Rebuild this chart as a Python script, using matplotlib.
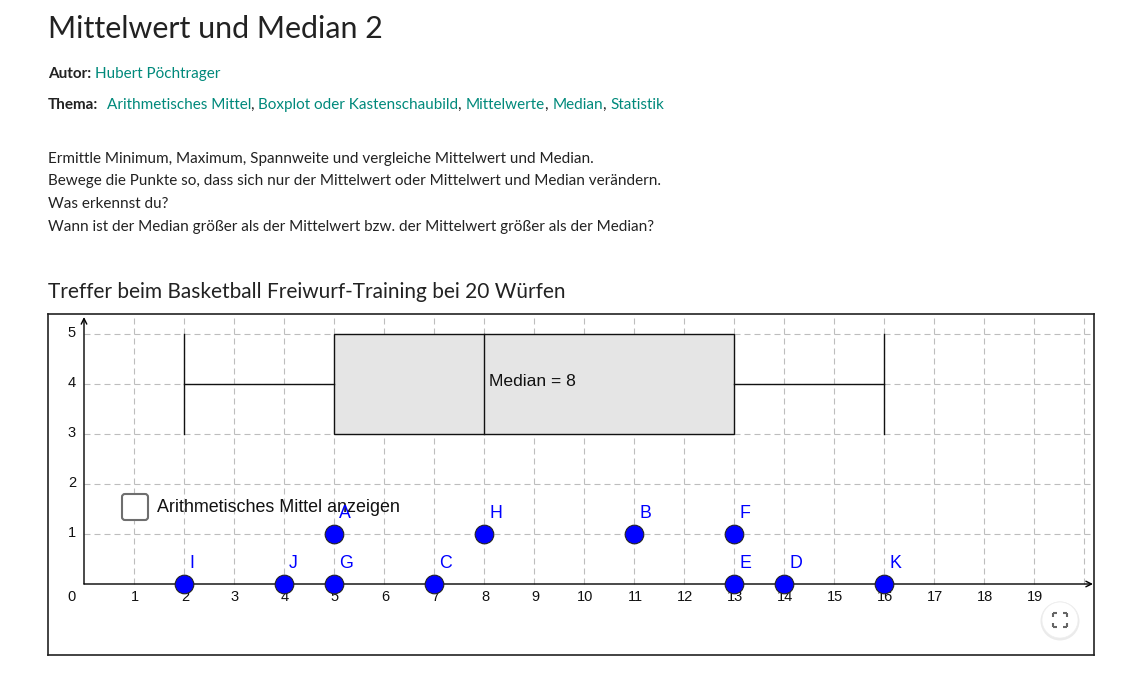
import matplotlib
matplotlib.use("Agg")
import matplotlib.pyplot as plt
from matplotlib.patches import Rectangle, FancyBboxPatch, Circle
from matplotlib.text import Annotation

W, H = 1141, 683
DPI = 100

# ---------------- data ----------------
point_names = ['A', 'B', 'C', 'D', 'E', 'F', 'G', 'H', 'I', 'J', 'K']
point_x = [5, 11, 7, 14, 13, 13, 5, 8, 2, 4, 16]
point_y = [1, 1, 0, 0, 0, 1, 0, 1, 0, 0, 0]

box_min, box_q1, box_median, box_q3, box_max = 2, 5, 8, 13, 16
box_center_y, box_half_height = 4, 1

x_tick_values = list(range(1, 20))
y_tick_values = list(range(1, 6))

title = "Mittelwert und Median 2"
author = "Hubert Pöchtrager"
topics = ["Arithmetisches Mittel", "Boxplot oder Kastenschaubild",
          "Mittelwerte", "Median", "Statistik"]
paragraph = ["Ermittle Minimum, Maximum, Spannweite und vergleiche Mittelwert und Median.",
             "Bewege die Punkte so, dass sich nur der Mittelwert oder Mittelwert und Median verändern.",
             "Was erkennst du?",
             "Wann ist der Median größer als der Mittelwert bzw. der Mittelwert größer als der Median?"]
applet_title = "Treffer beim Basketball Freiwurf-Training bei 20 Würfen"
checkbox_label = "Arithmetisches Mittel anzeigen"
median_label = "Median = 8"

# ---------------- style ----------------
PAGE_FONT = ["Lato", "DejaVu Sans"]
APP_FONT = ["Liberation Sans", "DejaVu Sans"]
TEXT_C = "#222222"
LINK_C = "#00897B"
BODY_FS = 11.0

fig = plt.figure(figsize=(W / DPI, H / DPI), dpi=DPI)
fig.patch.set_facecolor("white")


def ftext(xpx, ypx, s, **kw):
    return fig.text(xpx / W, 1 - ypx / H, s, va="baseline", ha="left", **kw)


def chain(prev, s, gap=0, **kw):
    a = Annotation(s, xy=(1, 0), xycoords=prev, xytext=(gap, 0),
                   textcoords="offset points", va="bottom", ha="left", **kw)
    fig.add_artist(a)
    return a


# page header
ftext(48, 38, title, fontsize=21.9, color=TEXT_C, family=PAGE_FONT)

t = ftext(48, 78, "Autor:", fontsize=BODY_FS, fontweight="bold", color=TEXT_C, family=PAGE_FONT)
chain(t, author, gap=3, fontsize=BODY_FS, color=LINK_C, family=PAGE_FONT)

t = ftext(48, 109, "Thema:", fontsize=BODY_FS, fontweight="bold", color=TEXT_C, family=PAGE_FONT)
prev = t
for i, tp in enumerate(topics):
    prev = chain(prev, tp, gap=(6 if i == 0 else 0), fontsize=BODY_FS, color=LINK_C, family=PAGE_FONT)
    if i < len(topics) - 1:
        prev = chain(prev, ", ", gap=0, fontsize=BODY_FS, color=TEXT_C, family=PAGE_FONT)

for i, line in enumerate(paragraph):
    ftext(48, 163 + i * 22.5, line, fontsize=BODY_FS, color=TEXT_C, family=PAGE_FONT)

ftext(48, 298, applet_title, fontsize=15.0, color=TEXT_C, family=PAGE_FONT)

# ---------------- applet ----------------
x0px, y0px, x1px, y1px = 48, 314, 1094, 655
ax = fig.add_axes([x0px / W, 1 - y1px / H, (x1px - x0px) / W, (y1px - y0px) / H])
unit = 50.0
ox, oy = 84, 584
xmin = (x0px - ox) / unit
xmax = (x1px - ox) / unit
ymax = (oy - y0px) / unit
ymin = (oy - y1px) / unit
ax.set_xlim(xmin, xmax)
ax.set_ylim(ymin, ymax)
ax.set_xticks([])
ax.set_yticks([])
for sp in ax.spines.values():
    sp.set_color("#222222")
    sp.set_linewidth(1.2)

grid_kw = dict(color="#bdbdbd", lw=0.8, dashes=(5.4, 3.6), zorder=1)
for gx in range(1, 21):
    ax.plot([gx, gx], [0, ymax], **grid_kw)
for gy in y_tick_values:
    ax.plot([0, xmax], [gy, gy], **grid_kw)

# axes with arrows
ax.annotate("", xy=(xmax - 0.02, 0), xytext=(0, 0),
            arrowprops=dict(arrowstyle="->", lw=1.0, color="black",
                            shrinkA=0, shrinkB=0, mutation_scale=10), zorder=3)
ax.annotate("", xy=(0, ymax - 0.06), xytext=(0, 0),
            arrowprops=dict(arrowstyle="->", lw=1.0, color="black",
                            shrinkA=0, shrinkB=0, mutation_scale=10), zorder=3)

# tick labels
TICK_FS = 10.5
for v in x_tick_values:
    ax.annotate(str(v), xy=(v, 0), xytext=(1, -13), textcoords="offset pixels",
                ha="center", va="center", fontsize=TICK_FS, family=APP_FONT, color="#111111")
ax.annotate("0", xy=(0, 0), xytext=(-12, -13), textcoords="offset pixels",
            ha="center", va="center", fontsize=TICK_FS, family=APP_FONT, color="#111111")
for v in y_tick_values:
    ax.annotate(str(v), xy=(0, v), xytext=(-12, 1), textcoords="offset pixels",
                ha="center", va="center", fontsize=TICK_FS, family=APP_FONT, color="#111111")

# boxplot
ax.add_patch(Rectangle((box_q1, box_center_y - box_half_height), box_q3 - box_q1,
                       2 * box_half_height, facecolor="#e5e5e5", edgecolor="#111111",
                       lw=1.0, zorder=2))
ax.plot([box_median, box_median], [box_center_y - box_half_height, box_center_y + box_half_height],
        color="#111111", lw=1.0, zorder=2.5)
ax.plot([box_min, box_q1], [box_center_y, box_center_y], color="#111111", lw=1.0, zorder=2.5)
ax.plot([box_q3, box_max], [box_center_y, box_center_y], color="#111111", lw=1.0, zorder=2.5)
for wx in (box_min, box_max):
    ax.plot([wx, wx], [box_center_y - box_half_height, box_center_y + box_half_height],
            color="#111111", lw=1.0, zorder=2.5)
ax.annotate(median_label, xy=(box_median, box_center_y), xytext=(5, -2),
            textcoords="offset pixels", ha="left", va="baseline",
            fontsize=12.6, family=APP_FONT, color="#111111", zorder=4)

# checkbox
cb_x, cb_y, cb_s = (122 - ox) / unit, (oy - 520) / unit, 26 / unit
ax.add_patch(FancyBboxPatch((cb_x + 0.05, cb_y + 0.05), cb_s - 0.1, cb_s - 0.1,
                            boxstyle="round,pad=0.05,rounding_size=0.06",
                            facecolor="white", edgecolor="#6e6e6e", lw=1.5, zorder=4))
ax.text((157 - ox) / unit, (oy - 507) / unit, checkbox_label, ha="left", va="center",
        fontsize=12.9, family=APP_FONT, color="#111111", zorder=4)

# points
ax.scatter(point_x, point_y, s=180, color="#0000ff", edgecolors="#222222",
           linewidths=0.8, zorder=5, clip_on=False)
for n, px, py in zip(point_names, point_x, point_y):
    ax.annotate(n, xy=(px, py), xytext=(5, 16), textcoords="offset pixels",
                ha="left", va="baseline", fontsize=12.8, family=APP_FONT,
                color="#0000ff", zorder=6)

# fullscreen button
bcx, bcy, br = (1060 - ox) / unit, (oy - 620) / unit, 18 / unit
ax.add_patch(Circle((bcx, bcy - 0.02), br + 0.03, facecolor="#000000", alpha=0.08,
                    edgecolor="none", zorder=6))
ax.add_patch(Circle((bcx, bcy), br, facecolor="white", edgecolor="#eeeeee", lw=0.5, zorder=7))
hs = 7 / unit
arm = 4 / unit
for sx in (-1, 1):
    for sy in (-1, 1):
        cx, cy = bcx + sx * hs, bcy + sy * hs
        ax.plot([cx, cx - sx * arm], [cy, cy], color="#666666", lw=1.5, zorder=8,
                solid_capstyle="butt")
        ax.plot([cx, cx], [cy, cy - sy * arm], color="#666666", lw=1.5, zorder=8,
                solid_capstyle="butt")

fig.savefig("out.png", dpi=DPI)
